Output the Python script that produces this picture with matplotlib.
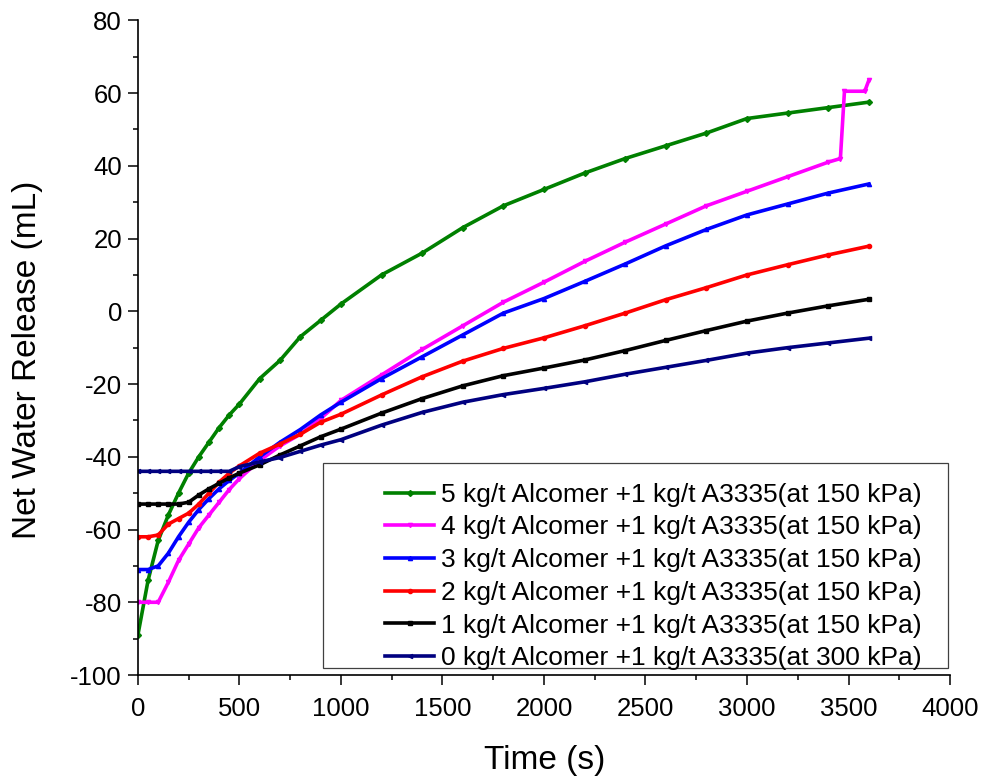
import matplotlib.pyplot as plt
from matplotlib.patches import Rectangle
from matplotlib.ticker import MultipleLocator

plt.rcParams['font.family'] = ['Liberation Sans', 'DejaVu Sans']
plt.rcParams['axes.unicode_minus'] = False

# tijdstippen (s), gemeenschappelijk voor alle reeksen
time_s = [0, 50, 100, 150, 200, 250, 300, 350, 400, 450, 500, 600, 700, 800, 900,
          1000, 1200, 1400, 1600, 1800, 2000, 2200, 2400, 2600, 2800, 3000, 3200,
          3400, 3600]

# netto water afgifte (mL)
dose_5 = [-89, -74, -63, -56, -50, -44.5, -40, -36, -32, -28.5, -25.5, -18.5, -13.5,
          -7, -2.5, 2, 10, 16, 23, 29, 33.5, 38, 42, 45.5, 49, 53, 54.5, 56, 57.5]
dose_3 = [-71, -71, -70, -66.5, -62, -58, -54.5, -51.5, -48.8, -46.5, -44.5, -40, -36,
          -32.5, -28.5, -25, -18.5, -12.5, -6.5, -0.5, 3.5, 8.2, 13, 18, 22.5, 26.5, 29.5,
          32.5, 35]
dose_2 = [-62, -62, -61.5, -58.5, -57, -55.5, -53, -50, -47, -44.5, -42.5, -39, -36.5,
          -33.8, -30.5, -28.3, -23, -18, -13.7, -10.2, -7.3, -4, -0.5, 3.2, 6.5, 10, 12.8,
          15.5, 17.9]
dose_1 = [-53, -53, -53, -53, -53, -52.5, -50.5, -48.8, -47.3, -45.8, -44.5, -42.2,
          -39.5, -37, -34.5, -32.4, -28, -24, -20.5, -17.7, -15.6, -13.4, -10.8, -8,
          -5.3, -2.7, -0.5, 1.5, 3.3]
dose_0 = [-44, -44, -44, -44, -44, -44, -44, -44, -44, -44, -42.7, -41.4, -40.2, -38.5,
          -36.8, -35.3, -31.3, -27.8, -25, -22.9, -21.2, -19.4, -17.3, -15.4, -13.5,
          -11.5, -10, -8.7, -7.4]

# reeks 4 heeft een sprong aan het eind, dus eigen tijdas
time_4 = time_s[:-1] + [3460, 3480, 3580, 3600]
dose_4 = [-80, -80, -80, -74.5, -68.5, -64, -59.5, -56, -52.5, -49, -46, -41, -37,
          -33.8, -29.5, -24.5, -17.5, -10.5, -4, 2.5, 8, 13.7, 19, 24, 29, 33, 37,
          41, 42, 60.5, 60.5, 63.5]

labels = ['5 kg/t Alcomer +1 kg/t A3335(at 150 kPa)',
          '4 kg/t Alcomer +1 kg/t A3335(at 150 kPa)',
          '3 kg/t Alcomer +1 kg/t A3335(at 150 kPa)',
          '2 kg/t Alcomer +1 kg/t A3335(at 150 kPa)',
          '1 kg/t Alcomer +1 kg/t A3335(at 150 kPa)',
          '0 kg/t Alcomer +1 kg/t A3335(at 300 kPa)']

series = [
    (time_s, dose_5, '#008000', 'D'),
    (time_4, dose_4, '#ff00ff', 'v'),
    (time_s, dose_3, '#0000ff', '^'),
    (time_s, dose_2, '#ff0000', 'o'),
    (time_s, dose_1, '#000000', 's'),
    (time_s, dose_0, '#000080', '<'),
]

fig = plt.figure(figsize=(9.85, 7.81), dpi=100)
ax = fig.add_axes([0.140, 0.1357, 0.8245, 0.8383])

for (t, v, kleur, mk), lab in zip(series, labels):
    ax.plot(t, v, color=kleur, linewidth=2.6, marker=mk, markersize=3, label=lab)

ax.set_xlim(0, 4000)
ax.set_ylim(-100, 80)
ax.xaxis.set_major_locator(MultipleLocator(500))
ax.xaxis.set_minor_locator(MultipleLocator(250))
ax.yaxis.set_major_locator(MultipleLocator(20))
ax.yaxis.set_minor_locator(MultipleLocator(10))
ax.tick_params(which='major', direction='out', length=7.5, width=1.1, labelsize=18.5, pad=4)
ax.tick_params(axis='x', which='major', pad=8.5)
ax.tick_params(which='minor', direction='out', length=3.5, width=1.1)
ax.spines['top'].set_visible(False)
ax.spines['right'].set_visible(False)
for s in ['left', 'bottom']:
    ax.spines[s].set_linewidth(1.2)

ax.set_xlabel('Time (s)', fontsize=24)
ax.set_ylabel('Net Water Release (mL)', fontsize=24)
ax.xaxis.set_label_coords(0.501, -0.107)
ax.yaxis.set_label_coords(-0.117, 0.481)

# legenda zonder eigen kader, kader apart getekend (breder aan de linkerkant)
leg = ax.legend(loc='lower right', bbox_to_anchor=(0.985, -0.017), frameon=False,
                fontsize=19, handlelength=1.85, handletextpad=0.27, labelspacing=0.33,
                borderaxespad=0.2)
ax.add_patch(Rectangle((0.228, 0.0107), 0.7695, 0.313, transform=ax.transAxes,
                       fill=False, edgecolor='#404040', linewidth=0.9, zorder=5))

fig.savefig('out.png', dpi=100)
